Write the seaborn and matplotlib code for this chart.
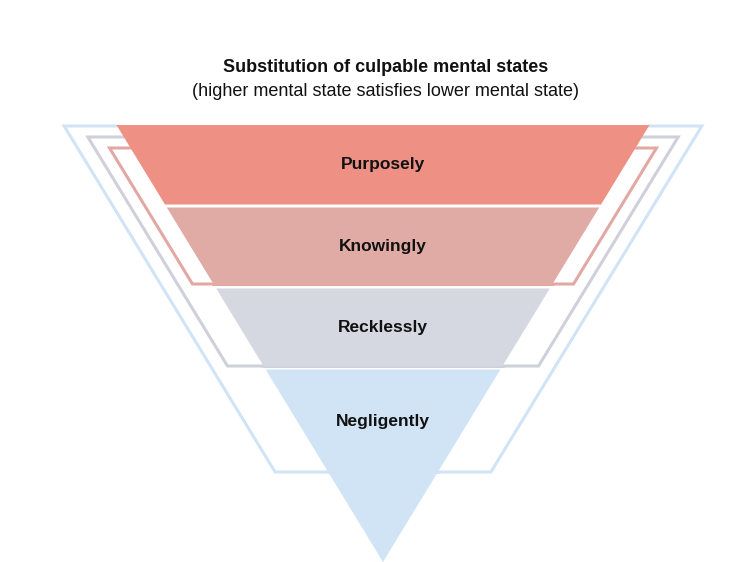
import matplotlib.pyplot as plt
import seaborn as sns

sns.set_theme(style="white")
plt.rcParams["font.family"] = ["Liberation Sans", "DejaVu Sans"]

levels = ["Purposely", "Knowingly", "Recklessly", "Negligently"]
fills = ["#ee9084", "#e0aaa5", "#d6d8e1", "#d0e4f5"]
title = "Substitution of culpable mental states"
subtitle = "(higher mental state satisfies lower mental state)"

W, H = 731, 562
top, apex_y, cx = 125, 562, 383
half_top = 266.5
band_h = 81


def half_width(y):
    return half_top * (apex_y - y) / (apex_y - top)


fig = plt.figure(figsize=(W / 100, H / 100), dpi=100)
ax = fig.add_axes([0, 0, 1, 1])
ax.set_xlim(0, W)
ax.set_ylim(H, 0)
ax.axis("off")

# bracket outlines behind the funnel (red -> knowingly, gray -> recklessly, blue -> negligently)
brackets = [
    (fills[3], 126, 472, 53),
    ("#cfd0da", 137, 366, 36),
    ("#e3a8a4", 148, 284, 21),
]
for color, y0, y1, off in brackets:
    xl0 = cx - half_width(y0) - off
    xl1 = cx - half_width(y1) - off
    inner0 = cx - half_width(y0)
    inner1 = cx - half_width(y1)
    xs = [inner0, xl0, xl1, inner1]
    ax.plot(xs, [y0, y0, y1, y1], color=color, lw=2.2, solid_joinstyle="miter")
    ax.plot([2 * cx - x for x in xs], [y0, y0, y1, y1], color=color, lw=2.2,
            solid_joinstyle="miter")
    ax.plot([inner1, 2 * cx - inner1], [y1, y1], color=color, lw=2.2)

for i, (name, col) in enumerate(zip(levels, fills)):
    ya = top + i * band_h + (1.5 if i else 0)
    yb = min(top + (i + 1) * band_h - 1.5, apex_y)
    if i == len(levels) - 1:
        yb = apex_y
    pts_x = [cx - half_width(ya), cx + half_width(ya), cx + half_width(yb), cx - half_width(yb)]
    ax.fill(pts_x, [ya, ya, yb, yb], color=col, lw=0, zorder=3)
    ty = (ya + yb) / 2 if i < len(levels) - 1 else ya + 52
    ax.text(cx, ty, name, ha="center", va="center", fontsize=12.5,
            fontweight="bold", color="#111111", zorder=4)

ax.text(cx + 3, 67, title, ha="center", va="center", fontsize=13, fontweight="bold",
        color="#111111")
ax.text(cx + 3, 91, subtitle, ha="center", va="center", fontsize=13, color="#111111")

fig.savefig("out.png", dpi=100)
